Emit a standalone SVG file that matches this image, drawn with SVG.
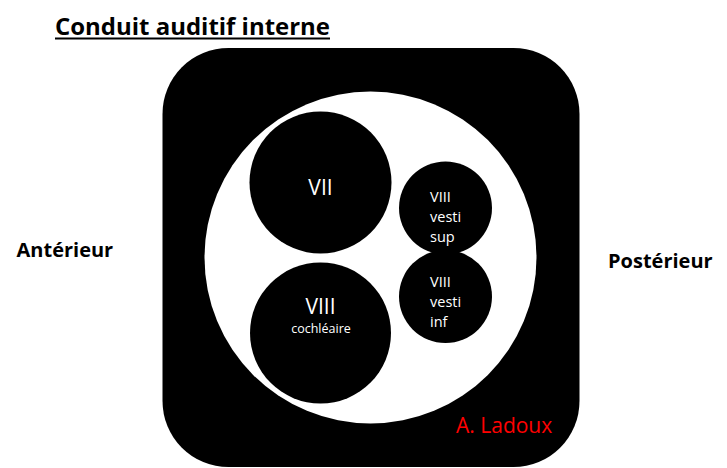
<svg xmlns="http://www.w3.org/2000/svg" width="727" height="468" viewBox="0 0 727 468">
<style>
.lbl{font-family:"Open Sans","DejaVu Sans",sans-serif;fill:#fff}
.small{font-size:14.5px}
.side{font-family:"Open Sans","DejaVu Sans",sans-serif;font-weight:bold;font-size:20px;fill:#000}
.nerve{fill:#000}
</style>
<rect width="727" height="468" fill="#fff"/>
<g id="title">
<text x="55" y="35" font-family="Open Sans, DejaVu Sans, sans-serif" font-weight="bold" font-size="23.5" textLength="275" lengthAdjust="spacingAndGlyphs" fill="#000">Conduit auditif interne</text>
<line x1="55" y1="38.5" x2="330" y2="38.5" stroke="#000" stroke-width="2"/>
</g>
<g id="canal">
<rect x="162.5" y="48" width="417" height="419" rx="66" ry="66" fill="#000"/>
<circle cx="370.5" cy="257.5" r="166" fill="#fff"/>
</g>
<g id="vii">
<circle class="nerve" cx="320.5" cy="182.5" r="71"/>
<text class="lbl" x="320.5" y="195" font-size="21" text-anchor="middle">VII</text>
</g>
<g id="viii-cochleaire">
<circle class="nerve" cx="320.5" cy="333" r="70.5"/>
<text class="lbl" x="320.5" y="314" font-size="21" text-anchor="middle">VIII</text>
<text class="lbl" x="321" y="333" font-size="12.5" text-anchor="middle">cochléaire</text>
</g>
<g id="viii-vesti-sup">
<circle class="nerve" cx="445.5" cy="208" r="46.5"/>
<text class="lbl small" x="430" y="201.5">VIII</text>
<text class="lbl small" x="430" y="221.5">vesti</text>
<text class="lbl small" x="430" y="241.5">sup</text>
</g>
<g id="viii-vesti-inf">
<circle class="nerve" cx="445.5" cy="296.5" r="46.5"/>
<text class="lbl small" x="430" y="287">VIII</text>
<text class="lbl small" x="430" y="307">vesti</text>
<text class="lbl small" x="430" y="327">inf</text>
</g>
<g id="anterieur">
<text class="side" x="16.5" y="257">Antérieur</text>
</g>
<g id="posterieur">
<text class="side" x="608" y="267.5">Postérieur</text>
</g>
<g id="author">
<text x="456" y="433" font-family="Open Sans, DejaVu Sans, sans-serif" font-size="21" fill="#ff0000">A. Ladoux</text>
</g>
<g id="connectors"></g>
</svg>
